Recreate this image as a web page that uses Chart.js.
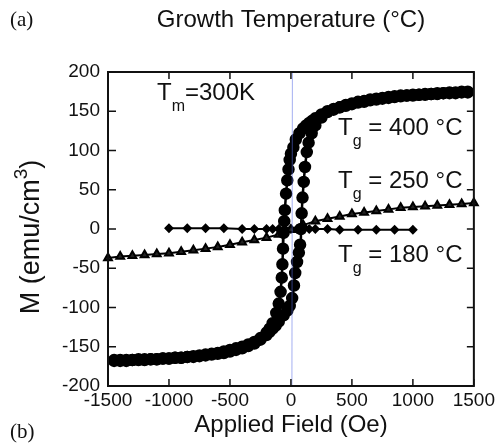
<!DOCTYPE html>
<html>
<head>
<meta charset="utf-8">
<script src="https://cdn.jsdelivr.net/npm/chart.js@4/dist/chart.umd.min.js"></script>
<style>
  body { margin: 0; background: #fff; }
</style>
</head>
<body>
<canvas id="loopChart" width="498" height="446"></canvas>
<script>
// Tg = 400 C loop, descending branch (field swept from +1450 to -1450 Oe)
var downField = [1450, 1400, 1350, 1300, 1250, 1200, 1150, 1100, 1050, 1000, 950, 900, 850, 800, 750, 700, 650, 600,
  550, 500, 450, 400, 350, 300, 250, 200, 175, 150, 125, 100, 70, 40, 20, 0,
  -10, -20, -30, -40, -50, -55, -60, -65, -70, -75, -85, -100, -120, -150, -175, -200, -250, -300, -350, -400,
  -450, -500, -550, -600, -650, -700, -750, -800, -850, -900, -950, -1000, -1050, -1100, -1150, -1200, -1250,
  -1300, -1350, -1400, -1450];
var downMag = [174, 174, 173, 173, 173, 172, 172, 171, 171, 170, 170, 169, 168, 167, 166, 165, 164, 162,
  161, 159, 157, 155, 153, 150, 146, 141, 138, 135, 132, 128, 122, 114, 104, 96,
  88, 76, 62, 45, 24, 10, -5, -25, -45, -62, -80, -95, -107, -120, -127, -132, -139, -144, -147, -150,
  -152, -154, -156, -158, -159, -160, -161, -162, -163, -164, -164, -165, -165, -166, -166, -167, -167,
  -167, -168, -168, -168];
// Tg = 400 C loop, ascending branch (field swept from -1450 to +1450 Oe)
var upField = [-1450, -1400, -1350, -1300, -1250, -1200, -1150, -1100, -1050, -1000, -950, -900, -850, -800, -750,
  -700, -650, -600, -550, -500, -450, -400, -350, -300, -250, -200, -175, -150, -125, -100,
  -60, -30, -10, 10, 25, 35, 50, 65, 75, 82, 88, 95, 105, 115, 130, 145, 170, 200, 250, 300, 350, 400, 450,
  500, 550, 600, 650, 700, 750, 800, 850, 900, 950, 1000, 1050, 1100, 1150, 1200, 1250, 1300, 1350, 1400, 1450];
var upMag = [-167, -167, -167, -167, -166, -166, -166, -166, -165, -165, -164, -164, -163, -163, -162,
  -161, -160, -159, -158, -156, -154, -152, -149, -146, -141, -135, -131, -127, -123, -118,
  -110, -104, -98, -88, -72, -56, -42, -30, -20, 0, 20, 40, 60, 79, 98, 110, 122, 132, 142, 149, 152, 155, 158,
  160, 162, 163, 165, 166, 167, 168, 169, 170, 170, 171, 171, 172, 172, 173, 173, 174, 174, 175, 175];
// Tg = 250 C
var field250 = [-1500, -1400, -1300, -1200, -1100, -1000, -900, -800, -700, -600, -500, -400, -300, -200, -100, 0,
  100, 200, 300, 400, 500, 600, 700, 800, 900, 1000, 1100, 1200, 1300, 1400, 1500];
var mag250 = [-37, -35, -34, -33, -32, -31, -29, -27, -25, -23, -20, -17, -14, -11, -7, -1,
  5, 10, 13, 16, 19, 21, 23, 25, 27, 28, 29, 30, 31, 32, 33];
// Tg = 180 C
var field180 = [-1000, -850, -700, -550, -400, -300, -200, -150, -100, -50, 0, 50, 100, 150, 200, 300, 400, 550, 700, 850, 1000];
var mag180 = [1, 1, 1, 1, 0, 0, 0, 0, 0, 0, 0, 0, 0, 0, 0, 0, -1, -1, -1, -1, -1];
// faint blue trace left on the scan near zero field
var traceField = [12, 8];
var traceMag = [200, -200];

var xTicks = [-1500, -1000, -500, 0, 500, 1000, 1500];
var yTicks = [-200, -150, -100, -50, 0, 50, 100, 150, 200];

function pts(xs, ys) {
  return xs.map(function(v, i) { return { x: v, y: ys[i] }; });
}

var sans = '"Liberation Sans", Arial, sans-serif';

function tLabel(ctx, x, base, sub, rest) {
  ctx.font = '24px ' + sans;
  ctx.fillText('T', x, base);
  var w = ctx.measureText('T').width;
  ctx.font = '16px ' + sans;
  ctx.fillText(sub, x + w, base + 11);
  var w2 = ctx.measureText(sub).width;
  ctx.font = '24px ' + sans;
  ctx.fillText(rest, x + w + w2, base);
}

var framePlugin = {
  id: 'frame',
  beforeDraw: function(chart) {
    var ctx = chart.ctx;
    ctx.save();
    ctx.fillStyle = '#fff';
    ctx.fillRect(0, 0, chart.width, chart.height);
    ctx.restore();
  },
  afterDraw: function(chart) {
    var ctx = chart.ctx, a = chart.chartArea;
    var xs = chart.scales.x, ys = chart.scales.y;
    ctx.save();
    ctx.strokeStyle = '#111';
    ctx.lineWidth = 2;
    ctx.strokeRect(a.left, a.top, a.right - a.left, a.bottom - a.top);
    ctx.lineWidth = 1.5;
    ctx.beginPath();
    xTicks.forEach(function(v) {
      var p = xs.getPixelForValue(v);
      ctx.moveTo(p, a.bottom); ctx.lineTo(p, a.bottom - 7);
      ctx.moveTo(p, a.top); ctx.lineTo(p, a.top + 7);
    });
    yTicks.forEach(function(v) {
      var p = ys.getPixelForValue(v);
      ctx.moveTo(a.left, p); ctx.lineTo(a.left + 8, p);
      ctx.moveTo(a.right, p); ctx.lineTo(a.right - 7, p);
    });
    ctx.stroke();

    ctx.fillStyle = '#111';
    ctx.textBaseline = 'alphabetic';
    // title and axis titles
    ctx.textAlign = 'center';
    ctx.font = '24px ' + sans;
    ctx.fillText('Growth Temperature (°C)', 291, 27);
    ctx.fillText('Applied Field (Oe)', 291, 432);
    ctx.save();
    ctx.translate(39, 237);
    ctx.rotate(-Math.PI / 2);
    ctx.textAlign = 'left';
    ctx.font = '27px ' + sans;
    var t1 = 'M (emu/cm';
    var w1 = ctx.measureText(t1).width;
    ctx.font = '19px ' + sans;
    var w3 = ctx.measureText('3').width;
    ctx.font = '27px ' + sans;
    var wp = ctx.measureText(')').width;
    var start = -(w1 + w3 + wp) / 2;
    ctx.fillText(t1, start, 0);
    ctx.font = '19px ' + sans;
    ctx.fillText('3', start + w1, -12);
    ctx.font = '27px ' + sans;
    ctx.fillText(')', start + w1 + w3, 0);
    ctx.restore();

    // panel letters
    ctx.textAlign = 'left';
    ctx.font = '21px "Liberation Serif", "Times New Roman", serif';
    ctx.fillText('(a)', 10, 26);
    ctx.fillText('(b)', 10, 438);

    // curve labels
    tLabel(ctx, 157, 100, 'm', '=300K');
    tLabel(ctx, 338, 135, 'g', ' = 400 °C');
    tLabel(ctx, 338, 188, 'g', ' = 250 °C');
    tLabel(ctx, 338, 262, 'g', ' = 180 °C');
    ctx.restore();
  }
};

function plain(v) { return String(v); }

var ctx = document.getElementById('loopChart').getContext('2d');
var loopChart = new Chart(ctx, {
  type: 'scatter',
  data: {
    datasets: [{
      label: 'trace',
      data: pts(traceField, traceMag),
      showLine: true,
      borderColor: 'rgba(90, 110, 230, 0.55)',
      borderWidth: 1,
      pointRadius: 0
    }, {
      label: 'Tg = 400 C (down)',
      data: pts(downField, downMag),
      showLine: true,
      borderColor: '#000',
      backgroundColor: '#000',
      borderWidth: 2.5,
      pointRadius: 5,
      pointBackgroundColor: '#000',
      pointBorderColor: '#000'
    }, {
      label: 'Tg = 400 C (up)',
      data: pts(upField, upMag),
      showLine: true,
      borderColor: '#000',
      backgroundColor: '#000',
      borderWidth: 2.5,
      pointRadius: 5,
      pointBackgroundColor: '#000',
      pointBorderColor: '#000'
    }, {
      label: 'Tg = 250 C',
      data: pts(field250, mag250),
      showLine: true,
      clip: false,
      borderColor: '#000',
      borderWidth: 2,
      pointStyle: 'triangle',
      pointRadius: 4.5,
      pointBackgroundColor: '#222',
      pointBorderColor: '#000'
    }, {
      label: 'Tg = 180 C',
      data: pts(field180, mag180),
      showLine: true,
      borderColor: '#000',
      borderWidth: 2,
      pointStyle: 'rectRot',
      pointRadius: 3.5,
      pointBackgroundColor: '#000',
      pointBorderColor: '#000'
    }]
  },
  options: {
    responsive: false,
    animation: false,
    layout: { padding: { top: 72, right: 24, left: 0, bottom: 0 } },
    plugins: { legend: { display: false }, tooltip: { enabled: false } },
    scales: {
      x: {
        min: -1500,
        max: 1500,
        afterFit: function(scale) { scale.height = 60; },
        afterBuildTicks: function(scale) { scale.ticks = xTicks.map(function(v) { return { value: v }; }); },
        grid: { display: false, drawTicks: false },
        border: { display: false },
        ticks: { padding: 3, color: '#111', font: { size: 19, family: sans }, maxRotation: 0, callback: plain }
      },
      y: {
        min: -200,
        max: 200,
        afterFit: function(scale) { scale.width = 108; },
        afterBuildTicks: function(scale) { scale.ticks = yTicks.map(function(v) { return { value: v }; }); },
        grid: { display: false, drawTicks: false },
        border: { display: false },
        ticks: { padding: 8, color: '#111', font: { size: 19, family: sans }, callback: plain }
      }
    }
  },
  plugins: [framePlugin]
});
</script>
</body>
</html>
